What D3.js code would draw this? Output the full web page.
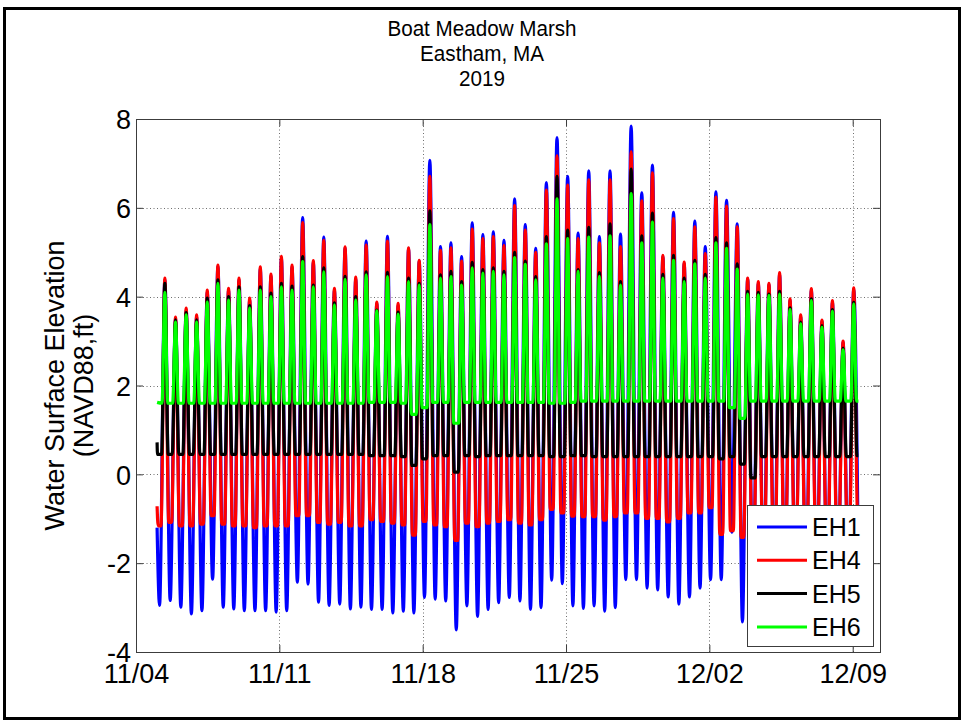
<!DOCTYPE html>
<html>
<head>
<meta charset="utf-8">
<script src="https://cdn.jsdelivr.net/npm/d3@7"></script>
<style>
  body { margin: 0; background: #fff; }
  svg { display: block; }
  text { font-family: Arial, "Liberation Sans", sans-serif; fill: #000; }
</style>
</head>
<body>
<div id="chart"></div>
<script>
const titleLines = ['Boat Meadow Marsh', 'Eastham, MA', '2019'];
const yLabelLines = ['Water Surface Elevation', '(NAVD88,ft)'];
const seriesNames = ['EH1', 'EH4', 'EH5', 'EH6'];
const seriesColors = ['#0000ff', '#ff0000', '#000000', '#00ff00'];
const xTickLabels = ['11/04', '11/11', '11/18', '11/25', '12/02', '12/09'];
const yTicks = [-4, -2, 0, 2, 4, 6, 8];

// high tide times, days after 11/04 00:00
const hiDay = [
  1.41, 1.93, 2.45, 2.96, 3.48, 4.00, 4.52, 5.03, 5.55, 6.07,
  6.59, 7.10, 7.62, 8.14, 8.66, 9.17, 9.69, 10.21, 10.73, 11.24,
  11.76, 12.28, 12.80, 13.31, 13.83, 14.35, 14.87, 15.38, 15.90, 16.42,
  16.94, 17.45, 17.97, 18.49, 19.01, 19.52, 20.04, 20.56, 21.08, 21.59,
  22.11, 22.63, 23.15, 23.66, 24.18, 24.70, 25.22, 25.73, 26.25, 26.77,
  27.29, 27.80, 28.32, 28.84, 29.36, 29.87, 30.39, 30.91, 31.43, 31.94,
  32.46, 32.98, 33.50, 34.01, 34.53, 35.05
];

// high water, ft
const eh1Hi = [
  4.38, 3.50, 3.70, 3.55, 4.10, 4.68, 4.15, 4.38, 3.93, 4.63,
  4.47, 4.87, 4.67, 5.78, 4.78, 5.34, 4.15, 5.10, 4.40, 5.25,
  3.85, 5.36, 3.80, 5.08, 4.80, 7.07, 5.13, 5.21, 4.90, 5.66,
  5.40, 5.46, 5.27, 6.20, 5.62, 5.09, 6.57, 7.58, 6.71, 5.43,
  6.83, 5.35, 6.83, 5.41, 7.84, 6.34, 6.96, 4.90, 5.90, 4.75,
  5.70, 5.13, 6.36, 6.17, 5.64, 4.40, 4.30, 4.27, 4.50, 3.92,
  3.55, 4.15, 3.45, 3.88, 2.97, 4.17
];
const eh4Hi = [
  4.42, 3.54, 3.74, 3.59, 4.15, 4.71, 4.19, 4.42, 3.97, 4.67,
  4.51, 4.91, 4.71, 5.67, 4.81, 5.27, 4.19, 5.12, 4.44, 5.16,
  3.88, 5.25, 3.85, 5.10, 4.82, 6.71, 5.04, 5.10, 4.80, 5.52,
  5.31, 5.35, 5.15, 6.05, 5.50, 5.00, 6.40, 7.17, 6.51, 5.31,
  6.63, 5.21, 6.63, 5.13, 7.26, 6.16, 6.79, 4.93, 5.76, 4.78,
  5.57, 4.97, 6.24, 6.04, 5.57, 4.42, 4.34, 4.30, 4.54, 3.95,
  3.59, 4.18, 3.47, 3.91, 3.00, 4.20
];
const eh5Hi = [
  4.30, 3.48, 3.64, 3.48, 3.97, 4.38, 4.00, 4.22, 3.80, 4.22,
  4.08, 4.30, 4.24, 4.90, 4.26, 4.65, 3.86, 4.46, 4.00, 4.56,
  3.70, 4.55, 3.65, 4.42, 4.30, 5.93, 4.49, 4.57, 4.34, 4.77,
  4.61, 4.65, 4.57, 5.00, 4.80, 4.45, 5.35, 6.71, 5.50, 4.61,
  5.56, 4.54, 5.64, 4.34, 6.87, 5.37, 5.88, 4.50, 4.93, 4.42,
  4.82, 4.50, 5.33, 5.21, 4.74, 4.12, 4.10, 4.06, 4.12, 3.75,
  3.43, 3.95, 3.35, 3.71, 2.84, 3.87
];
const eh6Hi = [
  4.10, 3.43, 3.59, 3.43, 3.88, 4.30, 3.92, 4.15, 3.74, 4.15,
  4.00, 4.22, 4.15, 4.79, 4.22, 4.56, 3.81, 4.39, 3.92, 4.49,
  3.68, 4.45, 3.60, 4.34, 4.26, 5.62, 4.42, 4.45, 4.26, 4.65,
  4.53, 4.57, 4.49, 4.88, 4.73, 4.38, 5.19, 6.20, 5.31, 4.57,
  5.34, 4.46, 5.37, 4.26, 6.32, 5.21, 5.68, 4.42, 4.82, 4.34,
  4.74, 4.42, 5.21, 5.09, 4.62, 4.06, 4.04, 4.03, 4.06, 3.71,
  3.39, 3.91, 3.31, 3.67, 2.80, 3.83
];

// low water before each high tide (last one after the final high), ft
const eh1Lo = [
  -2.95, -2.84, -2.99, -3.14, -3.07, -2.36, -2.99, -3.03, -3.07, -3.07,
  -3.07, -3.10, -3.07, -2.43, -2.47, -2.88, -2.95, -2.92, -3.03, -2.99,
  -3.04, -3.04, -3.12, -3.08, -3.12, -2.77, -2.81, -2.85, -3.50, -2.96,
  -3.20, -3.04, -2.89, -2.77, -2.85, -3.04, -3.00, -2.38, -2.46, -2.96,
  -3.02, -2.96, -3.08, -3.00, -2.37, -2.37, -2.56, -2.60, -2.76, -2.92,
  -2.76, -2.56, -2.37, -2.37, -1.30, -3.32, -2.70, -2.70, -2.60, -2.70,
  -2.70, -2.60, -2.70, -2.60, -2.70, -2.50, -2.20
];
const eh4Lo = [
  -1.16, -1.08, -1.16, -1.16, -1.12, -0.93, -1.12, -1.16, -1.16, -1.20,
  -1.16, -1.16, -1.16, -0.93, -0.93, -1.08, -1.12, -1.08, -1.16, -1.16,
  -1.02, -1.06, -1.10, -1.14, -1.37, -1.06, -1.14, -1.18, -1.49, -1.10,
  -1.18, -1.10, -1.06, -1.02, -1.10, -1.14, -1.02, -0.79, -0.87, -0.94,
  -0.95, -0.95, -1.03, -0.95, -0.87, -0.87, -0.99, -0.99, -1.07, -0.99,
  -0.87, -0.87, -0.75, -1.35, -1.27, -1.42, -1.00, -1.00, -1.00, -1.00,
  -1.00, -1.00, -1.00, -1.00, -1.00, -1.00, -0.90
];
const eh5Lo = [
  0.45, 0.45, 0.45, 0.45, 0.45, 0.45, 0.45, 0.45, 0.45, 0.45,
  0.45, 0.45, 0.45, 0.45, 0.45, 0.45, 0.45, 0.45, 0.45, 0.45,
  0.42, 0.42, 0.42, 0.40, 0.20, 0.35, 0.42, 0.42, 0.05, 0.42,
  0.40, 0.42, 0.42, 0.42, 0.42, 0.42, 0.42, 0.40, 0.40, 0.42,
  0.42, 0.40, 0.40, 0.40, 0.40, 0.40, 0.40, 0.40, 0.40, 0.40,
  0.40, 0.40, 0.40, 0.35, 0.40, 0.23, -0.08, 0.40, 0.40, 0.40,
  0.40, 0.40, 0.40, 0.40, 0.40, 0.40, 0.42
];
const eh6Lo = [
  1.60, 1.60, 1.60, 1.60, 1.60, 1.60, 1.60, 1.60, 1.60, 1.60,
  1.60, 1.60, 1.60, 1.60, 1.60, 1.60, 1.60, 1.60, 1.60, 1.60,
  1.62, 1.62, 1.62, 1.60, 1.35, 1.50, 1.62, 1.62, 1.15, 1.62,
  1.62, 1.62, 1.62, 1.62, 1.62, 1.62, 1.62, 1.60, 1.60, 1.62,
  1.65, 1.65, 1.65, 1.65, 1.65, 1.65, 1.65, 1.65, 1.65, 1.65,
  1.65, 1.65, 1.65, 1.65, 1.50, 1.26, 1.65, 1.65, 1.65, 1.65,
  1.65, 1.65, 1.65, 1.65, 1.65, 1.65, 1.65
];

// record start / end (days after 11/04) and the values there
const startDay = 1.03, endDay = 35.28;
const startVal = [-1.2, -0.72, 0.72, 1.62];
const endVal = [-2.2, -0.9, 0.42, 1.65];

const W = 964, H = 727;
const L = 136, R = 880, T = 119, B = 652;
const base = new Date(2019, 10, 4);
const toDate = d => new Date(+base + d * 864e5);

const svg = d3.select('#chart').append('svg')
  .attr('width', W).attr('height', H);

svg.append('rect')
  .attr('x', 4.5).attr('y', 8.5).attr('width', 955).attr('height', 710)
  .attr('fill', 'none').attr('stroke', '#000').attr('stroke-width', 3);

const x = d3.scaleTime().domain([base, new Date(2019, 11, 10, 8)]).range([L, R]);
const y = d3.scaleLinear().domain([-4, 8]).range([B, T]);
const parseTick = d3.timeParse('%m/%d/%Y');
const xTicks = xTickLabels.map(s => parseTick(s + '/2019'));

// grid
const grid = svg.append('g').attr('stroke', '#6e6e6e').attr('stroke-width', 1)
  .attr('stroke-dasharray', '1,2.5');
grid.selectAll('line.gx').data(xTicks).join('line')
  .attr('x1', d => Math.round(x(d)) + 0.5).attr('x2', d => Math.round(x(d)) + 0.5)
  .attr('y1', T).attr('y2', B);
grid.selectAll('line.gy').data(yTicks).join('line')
  .attr('y1', d => Math.round(y(d)) + 0.5).attr('y2', d => Math.round(y(d)) + 0.5)
  .attr('x1', L).attr('x2', R);

// series
const hiSets = [eh1Hi, eh4Hi, eh5Hi, eh6Hi];
const loSets = [eh1Lo, eh4Lo, eh5Lo, eh6Lo];
const halfWet = [0, 0.19, 0.16, 0.14]; // half of the time a gauge sits above its dry floor

function seriesPoints(i) {
  const hi = hiSets[i], lo = loSets[i], w = halfWet[i];
  const step = hiDay[1] - hiDay[0];
  const pts = [];
  for (let j = 0; j <= hi.length; j++) {
    const a = j === 0 ? hiDay[0] - step : hiDay[j - 1];
    const b = j === hi.length ? hiDay[hi.length - 1] + step : hiDay[j];
    if (w) pts.push([a + w, lo[j]], [b - w, lo[j]]);
    else pts.push([(a + b) / 2, lo[j]]);
    if (j < hi.length) pts.push([hiDay[j], hi[j]]);
  }
  const inner = pts.filter(p => p[0] > startDay && p[0] < endDay);
  return [[startDay, startVal[i]], ...inner, [endDay, endVal[i]]];
}

const line = d3.line()
  .x(p => x(toDate(p[0])))
  .y(p => y(p[1]))
  .curve(d3.curveMonotoneX);

svg.append('defs').append('clipPath').attr('id', 'plot-clip')
  .append('rect').attr('x', L).attr('y', T).attr('width', R - L).attr('height', B - T);

svg.append('g').attr('clip-path', 'url(#plot-clip)')
  .selectAll('path').data(seriesNames).join('path')
  .attr('d', (d, i) => line(seriesPoints(i)))
  .attr('fill', 'none')
  .attr('stroke', (d, i) => seriesColors[i])
  .attr('stroke-width', 3.2)
  .attr('stroke-linejoin', 'round');

// axes box and inward ticks
svg.append('rect')
  .attr('x', L + 0.5).attr('y', T + 0.5).attr('width', R - L).attr('height', B - T)
  .attr('fill', 'none').attr('stroke', '#3c3c3c').attr('stroke-width', 1);

const tickLen = 7;
const styleAxis = g => {
  g.select('.domain').remove();
  g.selectAll('line').attr('stroke', '#3c3c3c');
  g.selectAll('text').attr('font-size', '27px').attr('fill', '#000');
};

svg.append('g').attr('transform', `translate(0,${B})`)
  .call(d3.axisBottom(x).tickValues(xTicks).tickFormat(d3.timeFormat('%m/%d'))
    .tickSizeInner(-tickLen).tickSizeOuter(0))
  .call(styleAxis)
  .call(g => g.selectAll('text').attr('y', 31).attr('dy', 0));

svg.append('g').attr('transform', `translate(0,${T})`)
  .call(d3.axisTop(x).tickValues(xTicks).tickFormat('').tickSizeInner(-tickLen).tickSizeOuter(0))
  .call(styleAxis);

svg.append('g').attr('transform', `translate(${L},0)`)
  .call(d3.axisLeft(y).tickValues(yTicks).tickFormat(d => String(d))
    .tickSizeInner(-tickLen).tickSizeOuter(0))
  .call(styleAxis)
  .call(g => g.selectAll('text').attr('x', -5).attr('dy', '0.36em'));

svg.append('g').attr('transform', `translate(${R},0)`)
  .call(d3.axisRight(y).tickValues(yTicks).tickFormat('').tickSizeInner(-tickLen).tickSizeOuter(0))
  .call(styleAxis);

// title (slightly narrow lettering as in the source figure)
svg.append('g').selectAll('text').data(titleLines).join('text')
  .attr('transform', (d, i) => `translate(482,${36 + i * 25}) scale(0.96,1)`)
  .attr('text-anchor', 'middle').attr('font-size', '21.5px')
  .text(d => d);

// y label
svg.append('g').selectAll('text').data(yLabelLines).join('text')
  .attr('transform', (d, i) => `translate(${64 + i * 29},${(T + B) / 2}) rotate(-90)`)
  .attr('text-anchor', 'middle').attr('font-size', '27px')
  .text(d => d);

// legend
const lg = svg.append('g').attr('transform', 'translate(747,505)');
lg.append('rect').attr('x', 0.5).attr('y', 0.5).attr('width', 126).attr('height', 141)
  .attr('fill', '#fff').attr('stroke', '#3c3c3c').attr('stroke-width', 1);
const item = lg.selectAll('g.item').data(seriesNames).join('g')
  .attr('transform', (d, i) => `translate(0,${22 + i * 33.3})`);
item.append('line').attr('x1', 10).attr('x2', 60)
  .attr('stroke', (d, i) => seriesColors[i]).attr('stroke-width', 3);
item.append('text').attr('x', 65).attr('dy', '0.36em').attr('font-size', '25px')
  .text(d => d);
</script>
</body>
</html>
